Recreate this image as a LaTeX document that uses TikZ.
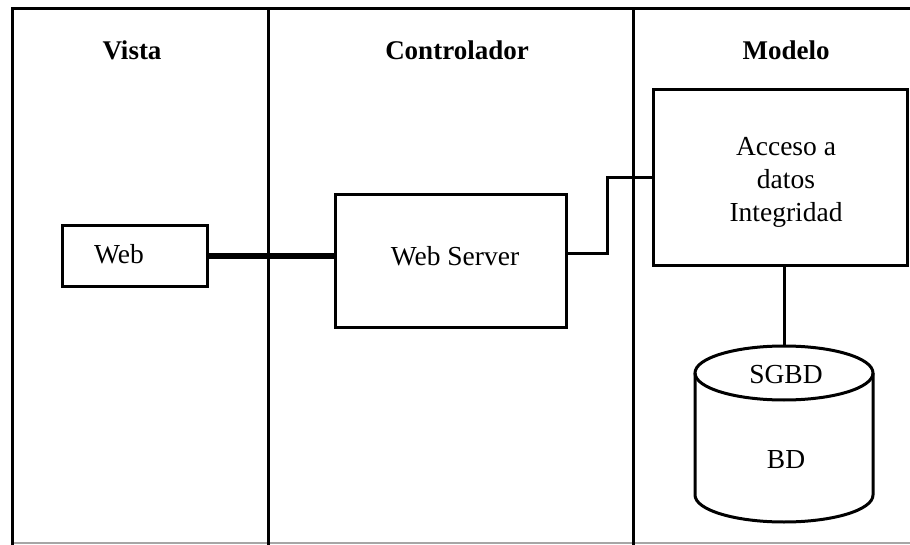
\documentclass[tikz,border=0pt]{standalone}
\usepackage{fontspec}
\setmainfont{Liberation Serif}
\begin{document}
\begin{tikzpicture}[x=1pt,y=-1pt,
  line/.style={line width=3pt},
  box/.style={draw,line width=3pt,rectangle,inner sep=0pt},
  title/.style={font=\fontsize{27}{33}\selectfont\bfseries,anchor=base},
  label/.style={font=\fontsize{27.5}{33}\selectfont,anchor=base},
  link/.style={line width=3pt},
  thicklink/.style={line width=6pt}]
\useasboundingbox (0,0) rectangle (910,545);
% page frame and lane dividers
\draw[gray!70,line width=1.5pt] (12,543) -- (910,543);
\draw[line] (910,9) -- (12,9) -- (12,545);
\draw[line] (268,9) -- (268,545);
\draw[line] (633,9) -- (633,545);
% lane titles
\node[title] (tvista) at (132,60) {Vista};
\node[title] (tctrl) at (457,60) {Controlador};
\node[title] (tmodel) at (786,60) {Modelo};
% components
\node[box,minimum width=145,minimum height=61] (web) at (134.5,256) {};
\node[label] (webtxt) at (119,264) {Web};
\node[box,minimum width=231,minimum height=132] (ws) at (450.5,261) {};
\node[label] (wstxt) at (455,266) {Web Server};
\node[box,minimum width=254,minimum height=176] (acc) at (780,178) {};
\node[font=\fontsize{27.5}{33}\selectfont,align=center] (acctxt) at (786,182) {Acceso a\\datos\\Integridad};
% database cylinder
\draw[line] (695,373) -- (695,495) arc[start angle=180,end angle=0,x radius=89,y radius=27] -- (873,373);
\draw[line] (784,373) ellipse[x radius=89,y radius=27];
\coordinate (dbtop) at (784,346);
\node[label] (sgbd) at (786,383) {SGBD};
\node[label] (bd) at (786,468) {BD};
% connectors
\draw[thicklink] (web.east) -- (ws.west |- web.east);
\draw[link] ([yshift=7pt]ws.east) -- ++(40,0) |- (acc.west);
\draw[link] (acc.south -| dbtop) -- (dbtop);
\end{tikzpicture}
\end{document}
